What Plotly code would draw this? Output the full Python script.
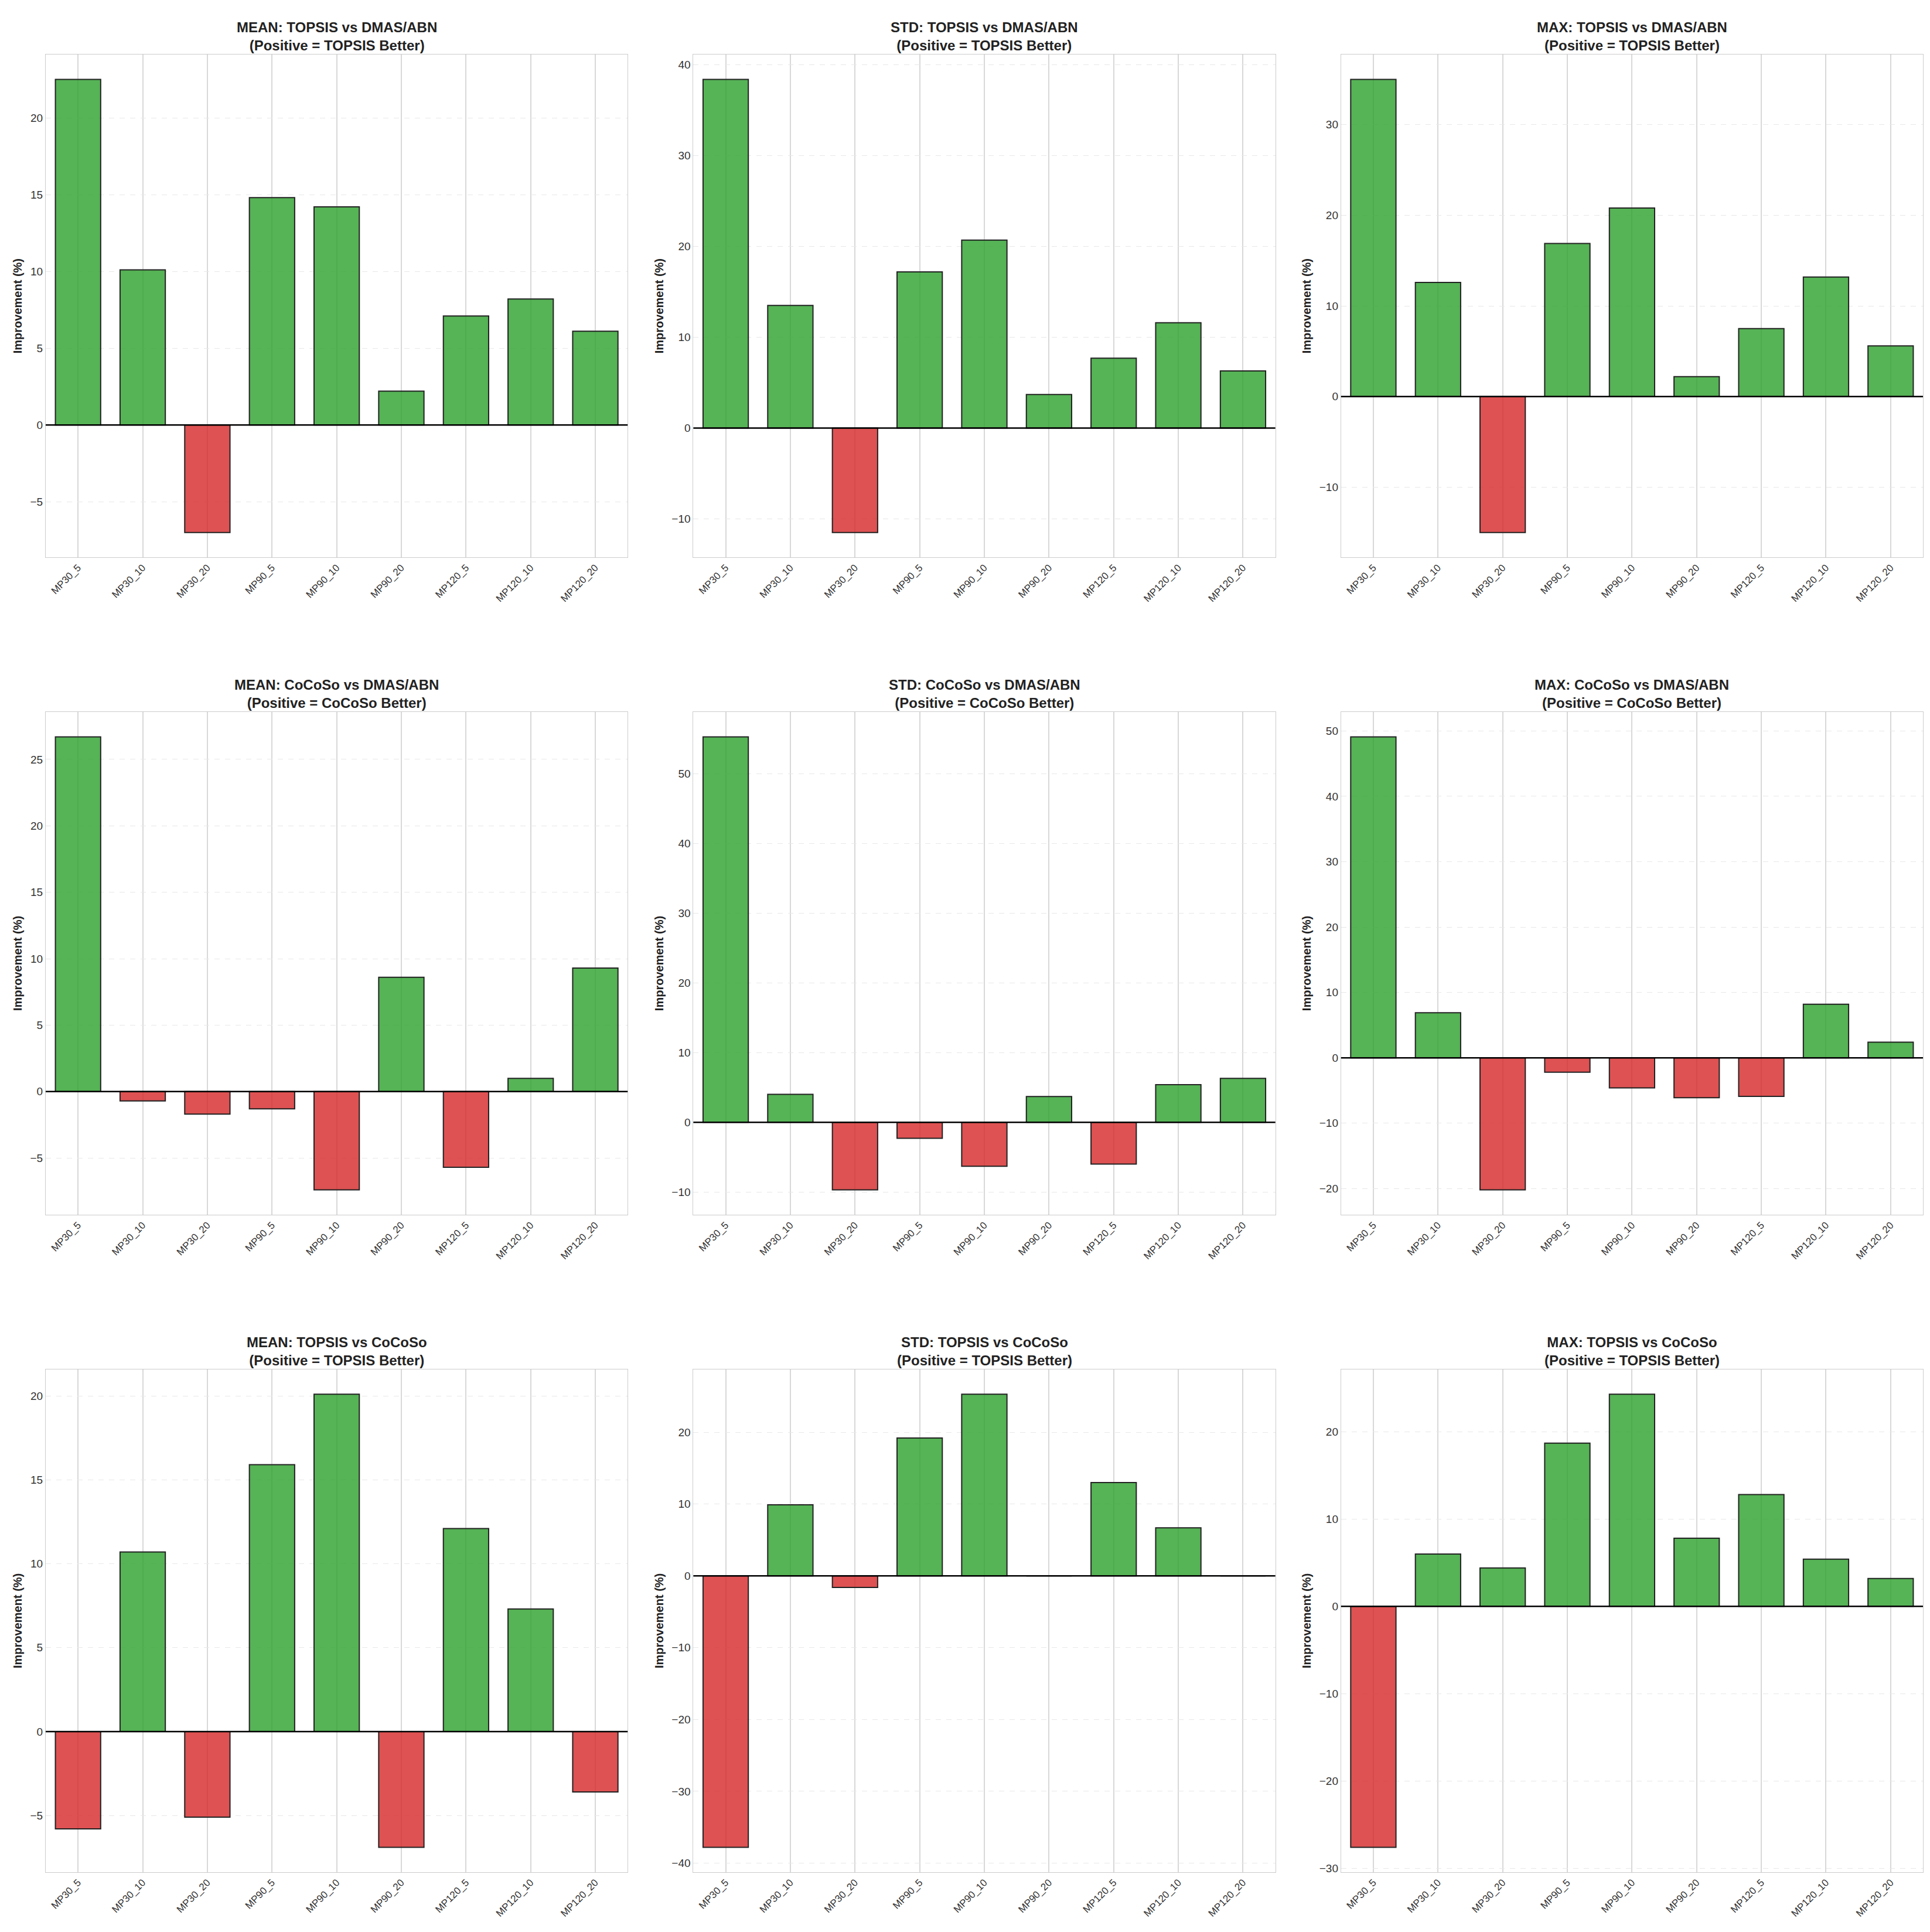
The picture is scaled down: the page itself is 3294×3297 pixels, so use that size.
import plotly.graph_objects as go
from plotly.subplots import make_subplots

configs = ["MP30_5", "MP30_10", "MP30_20", "MP90_5", "MP90_10", "MP90_20", "MP120_5", "MP120_10", "MP120_20"]

mean_topsis_dmas = [22.5, 10.1, -7.0, 14.8, 14.2, 2.2, 7.1, 8.2, 6.1]
std_topsis_dmas = [38.4, 13.5, -11.5, 17.2, 20.7, 3.7, 7.7, 11.6, 6.3]
max_topsis_dmas = [35.0, 12.6, -15.0, 16.9, 20.8, 2.2, 7.5, 13.2, 5.6]
mean_cocoso_dmas = [26.7, -0.7, -1.7, -1.3, -7.4, 8.6, -5.7, 1.0, 9.3]
std_cocoso_dmas = [55.3, 4.0, -9.7, -2.3, -6.3, 3.7, -6.0, 5.4, 6.3]
max_cocoso_dmas = [49.1, 6.9, -20.2, -2.2, -4.6, -6.1, -5.9, 8.2, 2.4]
mean_topsis_cocoso = [-5.8, 10.7, -5.1, 15.9, 20.1, -6.9, 12.1, 7.3, -3.6]
std_topsis_cocoso = [-37.8, 9.9, -1.6, 19.2, 25.3, 0.0, 13.0, 6.7, 0.0]
max_topsis_cocoso = [-27.6, 6.0, 4.4, 18.7, 24.3, 7.8, 12.8, 5.4, 3.2]

panels = [
    ("MEAN: TOPSIS vs DMAS/ABN<br>(Positive = TOPSIS Better)", mean_topsis_dmas),
    ("STD: TOPSIS vs DMAS/ABN<br>(Positive = TOPSIS Better)", std_topsis_dmas),
    ("MAX: TOPSIS vs DMAS/ABN<br>(Positive = TOPSIS Better)", max_topsis_dmas),
    ("MEAN: CoCoSo vs DMAS/ABN<br>(Positive = CoCoSo Better)", mean_cocoso_dmas),
    ("STD: CoCoSo vs DMAS/ABN<br>(Positive = CoCoSo Better)", std_cocoso_dmas),
    ("MAX: CoCoSo vs DMAS/ABN<br>(Positive = CoCoSo Better)", max_cocoso_dmas),
    ("MEAN: TOPSIS vs CoCoSo<br>(Positive = TOPSIS Better)", mean_topsis_cocoso),
    ("STD: TOPSIS vs CoCoSo<br>(Positive = TOPSIS Better)", std_topsis_cocoso),
    ("MAX: TOPSIS vs CoCoSo<br>(Positive = TOPSIS Better)", max_topsis_cocoso),
]

fig = make_subplots(rows=3, cols=3, subplot_titles=[p[0] for p in panels],
                    horizontal_spacing=0.035, vertical_spacing=0.085)

for i, (title, vals) in enumerate(panels):
    r, c = i // 3 + 1, i % 3 + 1
    colors = ["rgba(44,160,44,0.8)" if v >= 0 else "rgba(214,39,40,0.8)" for v in vals]
    fig.add_trace(go.Bar(x=configs, y=vals, marker_color=colors,
                         marker_line_color="#222", marker_line_width=2,
                         width=0.7, showlegend=False), row=r, col=c)
    lo, hi = min(vals + [0]), max(vals)
    pad = (hi - lo) * 0.055
    fig.update_yaxes(range=[lo - pad, hi + pad], row=r, col=c)
    fig.add_hline(y=0, line_color="black", line_width=2.5, row=r, col=c)

fig.update_xaxes(tickangle=-45, tickfont=dict(size=17, color="#333"),
                 showgrid=True, gridcolor="#d8d8d8", gridwidth=2,
                 showline=True, linecolor="#ccc", mirror=True, ticks="")
fig.update_yaxes(tickfont=dict(size=19, color="#333"), showgrid=True,
                 gridcolor="#e8e8e8", griddash="dash", zeroline=False,
                 showline=True, linecolor="#ccc", mirror=True,
                 title_text="<b>Improvement (%)</b>", title_font=dict(size=20, color="#222"),
                 title_standoff=8)
for a in fig.layout.annotations:
    a.font = dict(size=24, color="#222", family="Arial")
    a.text = "<b>" + a.text.replace("<br>", "</b><br><b>") + "</b>"

fig.update_layout(width=3294, height=3297, plot_bgcolor="white", paper_bgcolor="white",
                  font=dict(family="Arial"), bargap=0.3,
                  margin=dict(l=70, r=20, t=85, b=110))
fig.write_html("out.html")
